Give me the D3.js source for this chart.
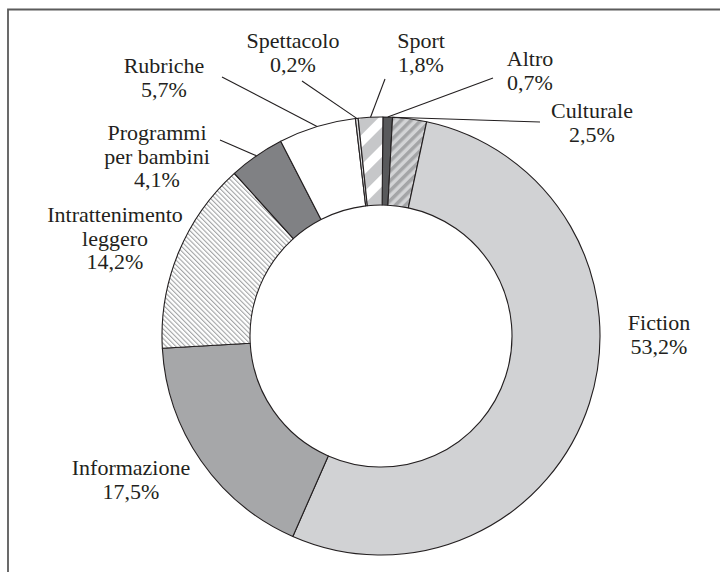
<!DOCTYPE html>
<html>
<head>
<meta charset="utf-8">
<script src="https://cdn.jsdelivr.net/npm/d3@7"></script>
<style>
  html, body { margin: 0; padding: 0; background: #fff; }
  svg { display: block; }
</style>
</head>
<body>
<div id="chart"></div>
<script>
// data, clockwise from the top
const categories = ['Altro', 'Culturale', 'Fiction', 'Informazione', 'Intrattenimento leggero',
  'Programmi per bambini', 'Rubriche', 'Spettacolo', 'Sport'];
const shares = [0.7, 2.5, 53.2, 17.5, 14.2, 4.1, 5.7, 0.2, 1.8];
const labelLines = [
  ['Altro'], ['Culturale'], ['Fiction'], ['Informazione'], ['Intrattenimento', 'leggero'],
  ['Programmi', 'per bambini'], ['Rubriche'], ['Spettacolo'], ['Sport']
];

const fills = ['#58595b', 'url(#hCult)', '#d1d2d4', '#a6a7a9', 'url(#hIntr)',
  '#808184', '#ffffff', '#e0e1e2', 'url(#hSport)'];

// label layout: centre x, first baseline, leader end (if any), leader attach point within slice
const layout = [
  { x: 530, y: 66, lx: 493, ly: 78, at: 0.5 },
  { x: 592, y: 118, lx: 540, ly: 122, at: 0.0 },
  { x: 659, y: 330 },
  { x: 131, y: 475 },
  { x: 115, y: 222 },
  { x: 157, y: 140, lx: 220, ly: 140, at: 0.5 },
  { x: 164, y: 73, lx: 222, ly: 77, at: 0.5 },
  { x: 293, y: 48, lx: 302, ly: 81, at: 0.5 },
  { x: 421, y: 48, lx: 385, ly: 79, at: 0.5 }
];

const width = 720, height = 572;
const cx = 381, cy = 336, rOuter = 219, rInner = 131;
const rot = 0.5 * Math.PI / 180;
const lineH = 23.5;
const font = "'Liberation Serif', 'Times New Roman', Times, serif";

const svg = d3.select('#chart').append('svg')
  .attr('width', width)
  .attr('height', height);

const defs = svg.append('defs');

function stripes(id, period, band, bg, fg, angle) {
  const p = defs.append('pattern')
    .attr('id', id)
    .attr('patternUnits', 'userSpaceOnUse')
    .attr('width', period)
    .attr('height', period)
    .attr('patternTransform', 'rotate(' + angle + ')');
  p.append('rect').attr('width', period).attr('height', period).attr('fill', bg);
  p.append('rect').attr('width', band).attr('height', period).attr('fill', fg);
}
stripes('hCult', 7, 3.5, '#d3d4d6', '#a4a5a7', 45);
stripes('hSport', 21, 12, '#ffffff', '#c6c7c9', 45);
stripes('hIntr', 3.4, 1.1, '#ffffff', '#a2a3a5', -45);

// frame
svg.append('path')
  .attr('d', 'M8,' + height + 'V9.5H' + width)
  .attr('fill', 'none')
  .attr('stroke', '#5b5b5b')
  .attr('stroke-width', 1.8);

const pie = d3.pie()
  .sort(null)
  .value(d => d)
  .startAngle(rot)
  .endAngle(2 * Math.PI + rot);

const arcs = pie(shares);

const arc = d3.arc()
  .innerRadius(rInner)
  .outerRadius(rOuter);

const g = svg.append('g')
  .attr('transform', 'translate(' + cx + ',' + cy + ')');

g.selectAll('path.slice')
  .data(arcs)
  .enter()
  .append('path')
  .attr('class', 'slice')
  .attr('d', arc)
  .attr('fill', (d, i) => fills[i])
  .attr('stroke', '#231f20')
  .attr('stroke-width', 1.1)
  .attr('stroke-linejoin', 'round');

// leader lines
arcs.forEach((d, i) => {
  const L = layout[i];
  if (L.lx === undefined) return;
  const a = d.startAngle + (d.endAngle - d.startAngle) * L.at;
  const sx = cx + rOuter * Math.sin(a);
  const sy = cy - rOuter * Math.cos(a);
  svg.append('line')
    .attr('x1', sx).attr('y1', sy)
    .attr('x2', L.lx).attr('y2', L.ly)
    .attr('stroke', '#231f20')
    .attr('stroke-width', 1.1);
});

// labels
const fmt = v => d3.format('.1f')(v).replace('.', ',') + '%';

categories.forEach((c, i) => {
  const L = layout[i];
  const t = svg.append('text')
    .attr('text-anchor', 'middle')
    .attr('x', L.x)
    .attr('y', L.y)
    .attr('font-family', font)
    .attr('font-size', 22)
    .attr('fill', '#231f20');
  const lines = labelLines[i].concat([fmt(shares[i])]);
  lines.forEach((s, k) => {
    t.append('tspan')
      .attr('x', L.x)
      .attr('dy', k === 0 ? 0 : lineH)
      .text(s);
  });
});
</script>
</body>
</html>
